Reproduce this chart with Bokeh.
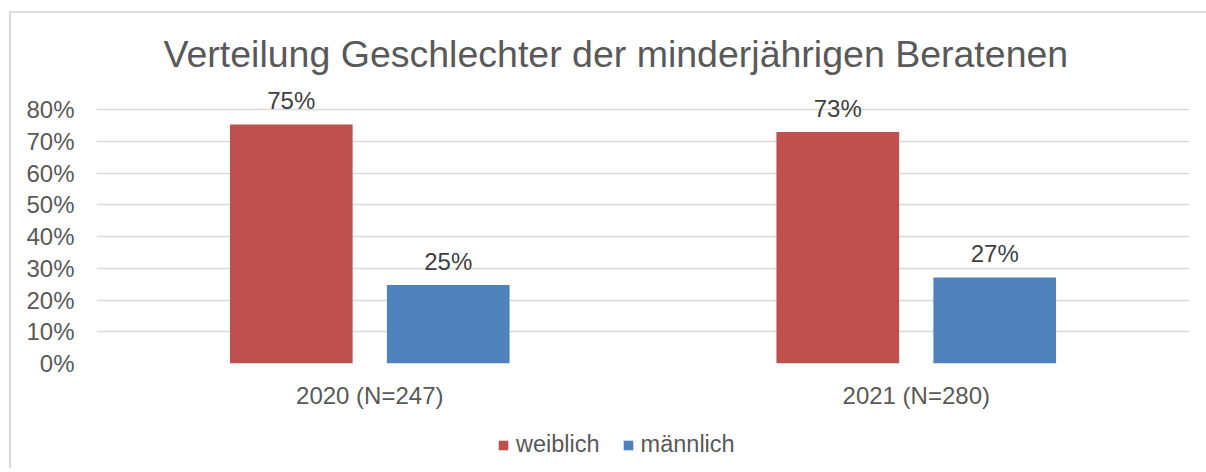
from bokeh.plotting import figure
from bokeh.layouts import column
from bokeh.models import (ColumnDataSource, FactorRange, Range1d, FixedTicker,
                          NumeralTickFormatter, Legend, LegendItem)
from bokeh.transform import dodge
from bokeh.core.properties import value
from bokeh.embed import file_html
from bokeh.resources import INLINE

# ---- data ----
categories = ["2020 (N=247)", "2021 (N=280)"]
series_names = ["weiblich", "männlich"]
weiblich = [0.753, 0.729]
maennlich = [0.247, 0.271]
y_ticks = [0.0, 0.1, 0.2, 0.3, 0.4, 0.5, 0.6, 0.7, 0.8]
title_text = "Verteilung Geschlechter der minderjährigen Beratenen"

colors = ["#C0504D", "#4F81BD"]
FONT = "Liberation Sans"
W = 1195
H_MAIN, H_LEG = 407, 48
Y_TOP = 0.8756  # room above 80% so the data labels are not clipped

src = ColumnDataSource(dict(
    cat=categories,
    w=weiblich,
    m=maennlich,
    w_lbl=[f"{round(v * 100)}%" for v in weiblich],
    m_lbl=[f"{round(v * 100)}%" for v in maennlich],
))

p = figure(width=W, height=H_MAIN,
           x_range=FactorRange(factors=categories, range_padding=0),
           y_range=Range1d(0, Y_TOP),
           output_backend="svg", toolbar_location=None,
           min_border_left=85, min_border_right=17,
           min_border_top=72, min_border_bottom=57)

p.title.text = title_text
p.title.align = "left"
p.title.offset = 67
p.title.text_font = FONT
p.title.text_font_size = "37.5px"
p.title.text_font_style = "normal"
p.title.text_color = "#595959"
p.title.standoff = 22

off = 0.1436
bw = 0.2245
r1 = p.vbar(x=dodge("cat", -off, range=p.x_range), top="w", width=bw,
            source=src, fill_color=colors[0], line_color=None)
r2 = p.vbar(x=dodge("cat", off, range=p.x_range), top="m", width=bw,
            source=src, fill_color=colors[1], line_color=None)

for col, lbl, dx in (("w", "w_lbl", -off), ("m", "m_lbl", off)):
    p.text(x=dodge("cat", dx, range=p.x_range), y=col, text=lbl, source=src,
           text_align="center", text_baseline="middle", y_offset=-24,
           text_font=value(FONT), text_font_size="24px", text_color="#404040")

p.outline_line_color = None
p.xgrid.visible = False
p.ygrid.grid_line_color = "#D9D9D9"
p.ygrid.grid_line_width = 1.5

p.yaxis.ticker = FixedTicker(ticks=y_ticks)
p.yaxis.formatter = NumeralTickFormatter(format="0%")
for ax in (p.xaxis[0], p.yaxis[0]):
    ax.axis_line_color = None
    ax.major_tick_line_color = None
    ax.minor_tick_line_color = None
    ax.major_tick_out = 0
    ax.major_tick_in = 0
    ax.minor_tick_out = 0
    ax.major_label_text_font = FONT
    ax.major_label_text_font_size = "24px"
    ax.major_label_text_color = "#595959"
p.yaxis.major_label_standoff = 22
p.xaxis.major_label_standoff = 18

# ---- legend strip below the chart ----
lg = figure(width=W, height=H_LEG, x_range=p.x_range, y_range=Range1d(10, 11),
            output_backend="svg", toolbar_location=None,
            x_axis_location=None, y_axis_location=None,
            min_border_left=0, min_border_right=0,
            min_border_top=0, min_border_bottom=0)
lg.grid.visible = False
lg.outline_line_color = None
l1 = lg.vbar(x=dodge("cat", -off, range=lg.x_range), top="w", width=bw,
             source=src, fill_color=colors[0], line_color=None)
l2 = lg.vbar(x=dodge("cat", off, range=lg.x_range), top="m", width=bw,
             source=src, fill_color=colors[1], line_color=None)
legend = Legend(items=[LegendItem(label=series_names[0], renderers=[l1]),
                       LegendItem(label=series_names[1], renderers=[l2])],
                orientation="horizontal", location=(401, 10),
                border_line_color=None, background_fill_alpha=0,
                glyph_width=12, glyph_height=12, label_standoff=7, spacing=22,
                padding=0, margin=0,
                label_text_font=FONT, label_text_font_size="23.5px",
                label_text_color="#595959")
lg.add_layout(legend, "center")

layout = column(p, lg, spacing=0)
layout.styles = {"border-left": "2px solid #D9D9D9", "border-top": "2px solid #DEDEDE",
                 "margin-left": "9px", "margin-top": "11px"}

open("out.html", "w").write(file_html(layout, INLINE))
